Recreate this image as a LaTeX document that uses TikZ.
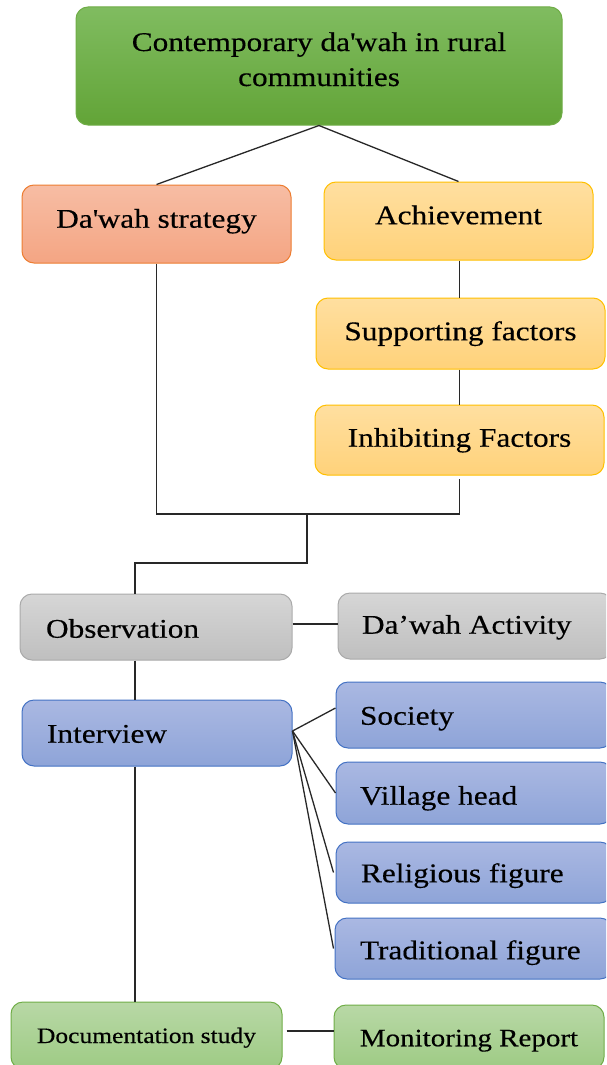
\documentclass[tikz,border=0pt]{standalone}
\usepackage{fontspec}
\setmainfont[FakeStretch=1.16,FakeBold=0.35]{Liberation Serif}
\newcommand\mybox[8]{\node[#2, minimum width={#5-#3}, minimum height={#6-#4}, #8] (#1) at ({(#3+#5)/2},{(#4+#6)/2}) {#7};}
\newcommand\myleft[9]{\node[#2, minimum width={#5-#3}, minimum height={#6-#4}, inner xsep=#8pt, #9] (#1) at ({(#3+#5)/2},{(#4+#6)/2}) {\makebox[\dimexpr #5pt-#3pt-#8pt-#8pt\relax][l]{#7}};}
\begin{document}
\begin{tikzpicture}[x=1pt,y=-1pt,
  base/.style={rounded corners=12pt, line width=1pt, inner sep=0pt, text height=19.44pt, text depth=5.94pt, font=\fontsize{27}{35}\selectfont},
  greenbox/.style={base, draw={rgb,255:red,112;green,173;blue,71}, top color={rgb,255:red,128;green,188;blue,96}, bottom color={rgb,255:red,98;green,164;blue,55}},
  salmonbox/.style={base, draw={rgb,255:red,237;green,125;blue,49}, top color={rgb,255:red,247;green,189;blue,164}, bottom color={rgb,255:red,244;green,165;blue,131}},
  yellowbox/.style={base, draw={rgb,255:red,255;green,192;blue,0}, top color={rgb,255:red,255;green,223;blue,160}, bottom color={rgb,255:red,255;green,210;blue,122}},
  graybox/.style={base, draw={rgb,255:red,170;green,170;blue,170}, top color={rgb,255:red,214;green,214;blue,214}, bottom color={rgb,255:red,191;green,191;blue,191}},
  bluebox/.style={base, draw={rgb,255:red,68;green,114;blue,196}, top color={rgb,255:red,170;green,184;blue,226}, bottom color={rgb,255:red,142;green,164;blue,216}},
  lgreenbox/.style={base, draw={rgb,255:red,112;green,173;blue,71}, top color={rgb,255:red,184;green,216;blue,166}, bottom color={rgb,255:red,158;green,203;blue,132}},
  conn/.style={draw={rgb,255:red,40;green,40;blue,40}, line width=1.3pt}
]
\useasboundingbox (0,0) rectangle (606,1065);
\clip (0,0) rectangle (606,1065);
\fill[white] (0,0) rectangle (606,1065);

\mybox{top}{greenbox}{76}{7}{562}{125}{Contemporary da\textquotesingle wah in rural\\communities}{align=center, text height=50pt, text depth=10pt}
\mybox{strat}{salmonbox}{22}{185}{291}{263}{Da\textquotesingle wah strategy}{text height=13.4pt}
\mybox{ach}{yellowbox}{324}{182}{593}{260}{Achievement}{text height=12.4pt}
\mybox{supp}{yellowbox}{316}{298}{605}{369}{Supporting factors}{text height=19.4pt}
\mybox{inhib}{yellowbox}{315}{405}{604}{475}{Inhibiting Factors}{text height=19.4pt}

\myleft{obs}{graybox}{20}{594}{292}{660}{Observation}{26}{text height=27.4pt}
\myleft{act}{graybox}{338}{593}{612}{659}{Da’wah Activity}{24}{text height=21.4pt}

\myleft{int}{bluebox}{22}{700}{292}{766}{Interview}{25}{text height=25.4pt}
\myleft{soc}{bluebox}{336}{682}{612}{748}{Society}{24}{text height=25.4pt}
\myleft{vil}{bluebox}{336}{762}{612}{824}{Village head}{24}{text height=29.4pt}
\myleft{rel}{bluebox}{336}{842}{612}{903}{Religious figure}{25}{text height=25.4pt}
\myleft{tra}{bluebox}{335}{918}{612}{979}{Traditional figure}{25}{text height=27.4pt}

\mybox{doc}{lgreenbox}{11}{1003}{282}{1070}{Documentation study}{font=\fontsize{22}{28}\selectfont, yshift=1pt, text height=19.8pt, text depth=4.8pt}
\mybox{mon}{lgreenbox}{334}{1006}{604}{1070}{Monitoring Report}{font=\fontsize{25}{32}\selectfont, yshift=1pt, text height=24pt, text depth=5.5pt}

% connectors
\draw[conn] (top.south) -- (strat.north);
\draw[conn] (top.south) -- (ach.north);
\draw[conn] ([xshift=-1pt]supp.north |- ach.south) -- ([xshift=-1pt]supp.north);
\draw[conn] ([xshift=-1pt]supp.south) -- ([xshift=-1pt]supp.south |- inhib.north);
\coordinate (j) at (307,514);
\coordinate (k) at (135,563);
\draw[conn] (strat.south) |- (j) -| ([xshift=-1pt,yshift=-3pt]supp.south |- inhib.south);
\draw[conn] (j) |- (k) -- (k |- obs.north);
\draw[conn] (k |- obs.south) -- (k |- int.north);
\draw[conn] (k |- int.south) -- (k |- doc.north);
\draw[conn] ([yshift=3pt]obs.east) -- ([yshift=3pt]obs.east -| act.west);
\draw[conn] ([yshift=2pt]int.east) -- ([yshift=7pt]soc.west);
\draw[conn] ([yshift=2pt]int.east) -- (vil.west);
\draw[conn] ([yshift=2pt]int.east) -- ([xshift=-2pt]rel.west);
\draw[conn] ([yshift=2pt]int.east) -- ([xshift=-1pt]tra.west);
\draw[conn] ([xshift=4pt,yshift=4.5pt]doc.east) -- ([yshift=4.5pt]doc.east -| mon.west);
\end{tikzpicture}
\end{document}
